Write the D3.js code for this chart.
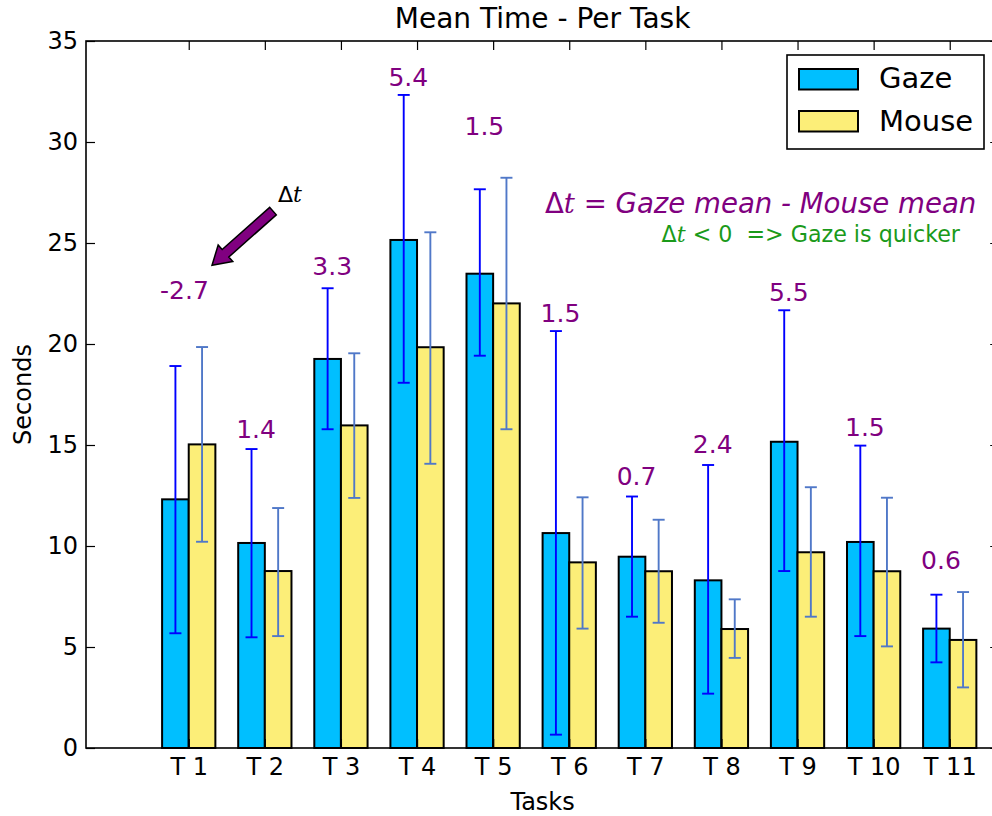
<!DOCTYPE html>
<html>
<head>
<meta charset="utf-8">
<script src="https://cdn.jsdelivr.net/npm/d3@7"></script>
<style>
  body { margin: 0; background: #fff; }
  svg { display: block; font-family: "DejaVu Sans", sans-serif; }
</style>
</head>
<body>
<svg id="chart"></svg>
<script>
// data
const tasks = ["T 1", "T 2", "T 3", "T 4", "T 5", "T 6", "T 7", "T 8", "T 9", "T 10", "T 11"];
const gazeMean  = [12.31, 10.15, 19.26, 25.15, 23.48, 10.64, 9.47, 8.30, 15.16, 10.20, 5.91];
const mouseMean = [15.03, 8.76, 15.97, 19.84, 22.01, 9.19, 8.75, 5.89, 9.69, 8.75, 5.35];
const gazeErrLow   = [5.68, 5.48, 15.78, 18.08, 19.42, 0.66, 6.50, 2.69, 8.76, 5.54, 4.24];
const gazeErrHigh  = [18.91, 14.80, 22.76, 32.33, 27.66, 20.64, 12.45, 14.01, 21.67, 14.97, 7.59];
const mouseErrLow  = [10.21, 5.54, 12.38, 14.07, 15.78, 5.91, 6.20, 4.46, 6.50, 5.03, 3.00];
const mouseErrHigh = [19.85, 11.88, 19.54, 25.53, 28.23, 12.41, 11.30, 7.36, 12.91, 12.39, 7.72];
const deltaLabels = ["-2.7", "1.4", "3.3", "5.4", "1.5", "1.5", "0.7", "2.4", "5.5", "1.5", "0.6"];
const deltaLabelY = [22.21, 15.33, 23.42, 32.79, 30.35, 21.10, 13.02, 14.59, 22.14, 15.46, 8.86];
const yTicks = [0, 5, 10, 15, 20, 25, 30, 35];
const seriesNames = ["Gaze", "Mouse"];

const W = 992, H = 816;
const margin = {left: 86, top: 41, right: 999.2, bottom: 748};
const barW = 0.35;
const colors = {gaze: "#00bfff", mouse: "#fcee78", gazeErr: "#0000ff", mouseErr: "#5078c8", delta: "#800080"};

const svg = d3.select("#chart").attr("width", W).attr("height", H);

const x = d3.scaleLinear().domain([-1, 11]).range([margin.left, margin.right]);
const y = d3.scaleLinear().domain([0, 35]).range([margin.bottom, margin.top]);

// bars
const rows = tasks.map((t, i) => ({
  i, t,
  g: gazeMean[i], m: mouseMean[i],
  gl: gazeErrLow[i], gh: gazeErrHigh[i],
  ml: mouseErrLow[i], mh: mouseErrHigh[i],
  lab: deltaLabels[i], ly: deltaLabelY[i]
}));

svg.append("g").selectAll("rect.gaze").data(rows).join("rect")
  .attr("class", "gaze")
  .attr("x", d => x(d.i))
  .attr("width", x(barW) - x(0))
  .attr("y", d => y(d.g))
  .attr("height", d => y(0) - y(d.g))
  .attr("fill", colors.gaze).attr("stroke", "#000").attr("stroke-width", 2);

svg.append("g").selectAll("rect.mouse").data(rows).join("rect")
  .attr("class", "mouse")
  .attr("x", d => x(d.i + barW))
  .attr("width", x(barW) - x(0))
  .attr("y", d => y(d.m))
  .attr("height", d => y(0) - y(d.m))
  .attr("fill", colors.mouse).attr("stroke", "#000").attr("stroke-width", 2);

// error bars
function errBars(off, lo, hi, col) {
  const g = svg.append("g").attr("stroke", col).attr("stroke-width", 1.9).attr("fill", "none");
  rows.forEach(d => {
    const cx = x(d.i + off);
    g.append("line").attr("x1", cx).attr("x2", cx).attr("y1", y(d[lo])).attr("y2", y(d[hi]));
    g.append("line").attr("x1", cx - 6).attr("x2", cx + 6).attr("y1", y(d[lo])).attr("y2", y(d[lo]));
    g.append("line").attr("x1", cx - 6).attr("x2", cx + 6).attr("y1", y(d[hi])).attr("y2", y(d[hi]));
  });
}
errBars(barW / 2, "gl", "gh", colors.gazeErr);
errBars(barW * 1.5, "ml", "mh", colors.mouseErr);

// delta labels
svg.append("g").selectAll("text").data(rows).join("text")
  .attr("x", d => x(d.i) - 2)
  .attr("y", d => y(d.ly))
  .attr("fill", colors.delta)
  .attr("font-size", 25)
  .text(d => d.lab);

// axes (ticks pointing inward, matplotlib classic style)
const tickVals = rows.map(d => d.i + barW);
const axB = svg.append("g").attr("transform", `translate(0,${margin.bottom})`)
  .call(d3.axisBottom(x).tickValues(tickVals).tickFormat((v, i) => tasks[i]).tickSize(-9).tickPadding(10));
const axT = svg.append("g").attr("transform", `translate(0,${margin.top})`)
  .call(d3.axisTop(x).tickValues(tickVals).tickFormat("").tickSize(-9));
const axL = svg.append("g").attr("transform", `translate(${margin.left},0)`)
  .call(d3.axisLeft(y).tickValues(yTicks).tickFormat(d3.format("d")).tickSize(-9).tickPadding(8));
const axR = svg.append("g").attr("transform", `translate(${margin.right},0)`)
  .call(d3.axisRight(y).tickValues(yTicks).tickFormat("").tickSize(-9));
[axB, axT, axL, axR].forEach(a => {
  a.select(".domain").remove();
  a.selectAll(".tick line").attr("stroke", "#000").attr("stroke-width", 1.2);
  a.selectAll(".tick text").attr("font-size", 24).attr("fill", "#000").attr("font-family", "DejaVu Sans");
});
axL.selectAll(".tick text").attr("dx", 0);

svg.append("rect")
  .attr("x", margin.left).attr("y", margin.top)
  .attr("width", margin.right - margin.left).attr("height", margin.bottom - margin.top)
  .attr("fill", "none").attr("stroke", "#000").attr("stroke-width", 1.6);

// titles
svg.append("text").attr("x", (margin.left + margin.right) / 2).attr("y", 28)
  .attr("text-anchor", "middle").attr("font-size", 28).text("Mean Time - Per Task");
svg.append("text").attr("x", (margin.left + margin.right) / 2).attr("y", 810)
  .attr("text-anchor", "middle").attr("font-size", 24).text("Tasks");
svg.append("text")
  .attr("transform", `translate(31,${(margin.top + margin.bottom) / 2}) rotate(-90)`)
  .attr("text-anchor", "middle").attr("font-size", 24).text("Seconds");

// legend
const leg = svg.append("g");
leg.append("rect").attr("x", 787).attr("y", 55).attr("width", 197).attr("height", 94)
  .attr("fill", "#fff").attr("stroke", "#000").attr("stroke-width", 1.6);
seriesNames.forEach((s, i) => {
  leg.append("rect").attr("x", 799).attr("y", 69 + i * 42).attr("width", 59).attr("height", 20.5)
    .attr("fill", i === 0 ? colors.gaze : colors.mouse).attr("stroke", "#000").attr("stroke-width", 2);
  leg.append("text").attr("x", 879).attr("y", 88 + i * 43).attr("font-size", 29).text(s);
});

// annotations
const arrowTail = {x: 1.457, y: 26.58}, arrowTip = {x: 0.656, y: 23.9};
const t0 = [x(arrowTail.x), y(arrowTail.y)], t1 = [x(arrowTip.x), y(arrowTip.y)];
const len = Math.hypot(t1[0] - t0[0], t1[1] - t0[1]);
const u = [(t1[0] - t0[0]) / len, (t1[1] - t0[1]) / len], n = [-u[1], u[0]];
const headLen = 18, bodyHalf = 5, headHalf = 11;
const neck = [t1[0] - u[0] * headLen, t1[1] - u[1] * headLen];
const pts = [
  [t0[0] + n[0] * bodyHalf, t0[1] + n[1] * bodyHalf],
  [neck[0] + n[0] * bodyHalf, neck[1] + n[1] * bodyHalf],
  [neck[0] + n[0] * headHalf, neck[1] + n[1] * headHalf],
  t1,
  [neck[0] - n[0] * headHalf, neck[1] - n[1] * headHalf],
  [neck[0] - n[0] * bodyHalf, neck[1] - n[1] * bodyHalf],
  [t0[0] - n[0] * bodyHalf, t0[1] - n[1] * bodyHalf]
];
svg.append("path").attr("d", d3.line()(pts) + "Z")
  .attr("fill", colors.delta).attr("stroke", "#000").attr("stroke-width", 1.5).attr("stroke-linejoin", "miter");

function deltaT(sel) {
  sel.append("tspan").attr("font-family", "DejaVu Sans").attr("font-style", "normal").text("Δ");
  sel.append("tspan").attr("font-family", "DejaVu Serif").attr("font-style", "italic").text("t");
}
const dtLab = svg.append("text").attr("x", x(1.523)).attr("y", y(27.04)).attr("font-size", 22).attr("fill", "#000");
deltaT(dtLab);

const f1 = svg.append("text").attr("x", x(10.70)).attr("y", y(26.47))
  .attr("text-anchor", "end").attr("font-size", 27.6).attr("fill", colors.delta);
deltaT(f1);
f1.append("tspan").attr("font-style", "oblique").text(" = Gaze mean - Mouse mean");

const f2 = svg.append("text").attr("x", x(10.485)).attr("y", y(25.03))
  .attr("text-anchor", "end").attr("font-size", 22.2).attr("fill", "#1a9a1a");
deltaT(f2);
f2.append("tspan").style("white-space", "pre").text(" < 0  => Gaze is quicker");
</script>
</body>
</html>
